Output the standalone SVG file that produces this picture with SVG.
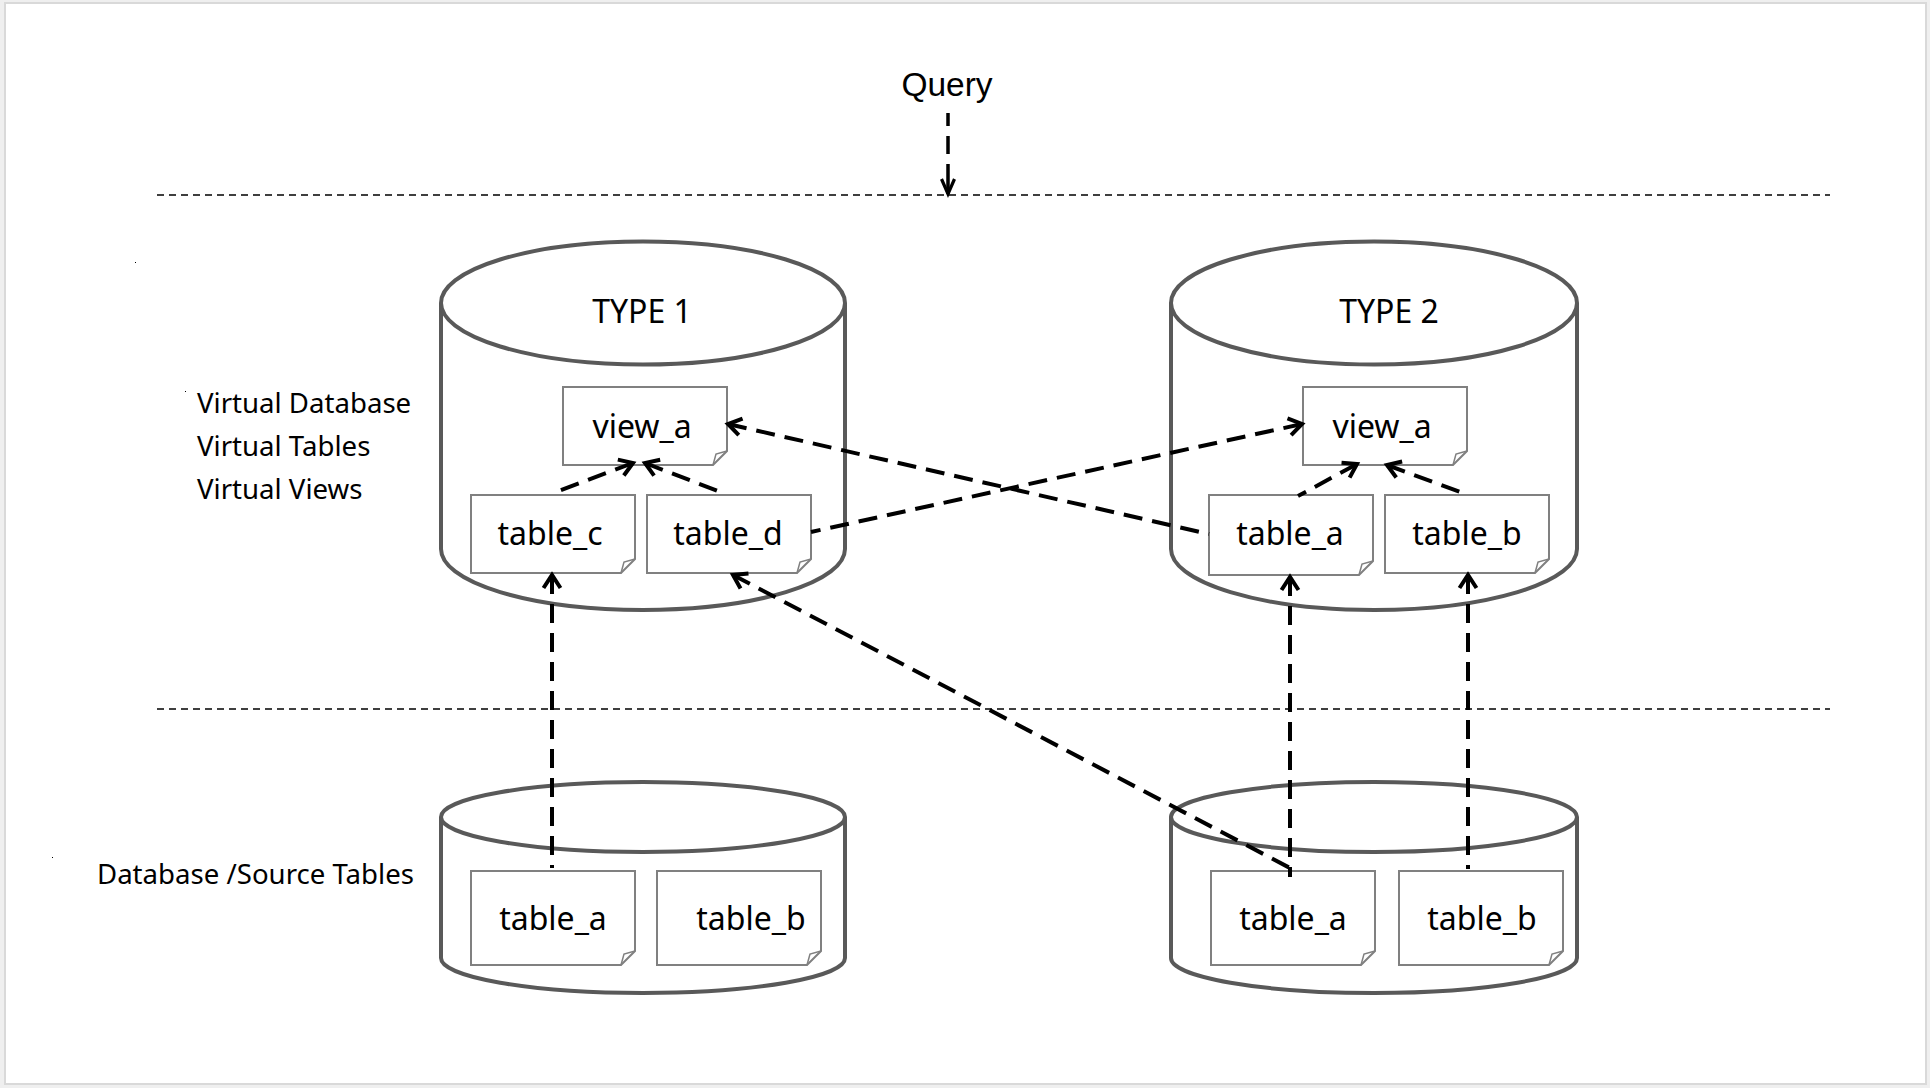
<svg xmlns="http://www.w3.org/2000/svg" width="1930" height="1088" viewBox="0 0 1930 1088">
<style>
.cyl{fill:#fff;stroke:#595959;stroke-width:4}
.note{fill:#fff;stroke:#808080;stroke-width:2}
.fold{fill:none;stroke:#808080;stroke-width:1.5}
.t{font-family:"Noto Sans","Open Sans","Liberation Sans",sans-serif;font-size:32px;fill:#000;text-anchor:middle}
.lbl{font-family:"Noto Sans","Open Sans","Liberation Sans",sans-serif;font-size:27.6px;fill:#000}
.sep{stroke:#000;stroke-width:1.6;stroke-dasharray:7 5;fill:none}
.con{stroke:#000;stroke-width:4;stroke-dasharray:19 10;fill:none;marker-start:url(#arr)}
</style>
<defs>
<marker id="arr" markerUnits="userSpaceOnUse" viewBox="-18 -12 22 24" refX="0" refY="0" markerWidth="22" markerHeight="24" orient="auto-start-reverse">
<path d="M-13,-8.5 L0,0 L-13,8.5" fill="none" stroke="#000" stroke-width="4" stroke-linejoin="miter"/>
</marker>
<marker id="arrq" markerUnits="userSpaceOnUse" viewBox="-18 -12 22 24" refX="0" refY="0" markerWidth="22" markerHeight="24" orient="auto-start-reverse">
<path d="M-15,-6.5 L0,0 L-15,6.5" fill="none" stroke="#000" stroke-width="3.2" stroke-linejoin="miter"/>
</marker>
</defs>
<rect x="0" y="0" width="1930" height="1088" fill="#efefef"/>
<rect x="5" y="3" width="1921" height="1081" fill="#fff" stroke="#d9d9d9" stroke-width="2"/>

<g id="separators">
<line class="sep" x1="157" y1="195" x2="1830" y2="195"/>
<line class="sep" x1="157" y1="709" x2="1830" y2="709"/>
</g>

<g id="query"><text x="947" y="96" style="font-family:'Liberation Sans',Arial,sans-serif;font-size:33.5px;text-anchor:middle">Query</text></g>

<g id="label-virtual">
<text class="lbl" x="197" y="413">Virtual Database</text>
<text class="lbl" x="197" y="456">Virtual Tables</text>
<text class="lbl" x="197" y="499">Virtual Views</text>
</g>
<g id="label-source"><text class="lbl" x="97" y="884">Database /Source Tables</text></g>
<g id="specks" fill="#000"><rect x="135" y="262" width="1" height="1"/><rect x="185" y="391" width="1" height="1"/><rect x="52" y="857" width="1" height="1"/></g>

<g id="type1">
<path class="cyl" d="M441,303 L441,549 A202,61 0 0 0 845,549 L845,303"/>
<ellipse class="cyl" cx="643" cy="303" rx="202" ry="61.5"/>
<text class="t" x="642" y="323">TYPE 1</text>
</g>
<g id="type2">
<path class="cyl" d="M1171,303 L1171,549 A203,61 0 0 0 1577,549 L1577,303"/>
<ellipse class="cyl" cx="1374" cy="303" rx="203" ry="61.5"/>
<text class="t" x="1389" y="323">TYPE 2</text>
</g>
<g id="source1">
<path class="cyl" d="M441,817 L441,958 A202,35 0 0 0 845,958 L845,817"/>
<ellipse class="cyl" cx="643" cy="817" rx="202" ry="35"/>
</g>
<g id="source2">
<path class="cyl" d="M1171,817 L1171,958 A203,35 0 0 0 1577,958 L1577,817"/>
<ellipse class="cyl" cx="1374" cy="817" rx="203" ry="35"/>
</g>

<g id="t1-view_a">
<path class="note" d="M563,387 H727 V451 L713,465 H563 Z"/><path class="fold" d="M713,465 L716,454 L727,451"/>
<text class="t" x="642" y="438">view_a</text>
</g>
<g id="t1-table_c">
<path class="note" d="M471,495 H635 V559 L621,573 H471 Z"/><path class="fold" d="M621,573 L624,562 L635,559"/>
<text class="t" x="550" y="545">table_c</text>
</g>
<g id="t1-table_d">
<path class="note" d="M647,495 H811 V559 L797,573 H647 Z"/><path class="fold" d="M797,573 L800,562 L811,559"/>
<text class="t" x="728" y="545">table_d</text>
</g>
<g id="t2-view_a">
<path class="note" d="M1303,387 H1467 V451 L1453,465 H1303 Z"/><path class="fold" d="M1453,465 L1456,454 L1467,451"/>
<text class="t" x="1382" y="438">view_a</text>
</g>
<g id="t2-table_a">
<path class="note" d="M1209,495 H1373 V561 L1359,575 H1209 Z"/><path class="fold" d="M1359,575 L1362,564 L1373,561"/>
<text class="t" x="1290" y="545">table_a</text>
</g>
<g id="t2-table_b">
<path class="note" d="M1385,495 H1549 V559 L1535,573 H1385 Z"/><path class="fold" d="M1535,573 L1538,562 L1549,559"/>
<text class="t" x="1467" y="545">table_b</text>
</g>
<g id="s1-table_a">
<path class="note" d="M471,871 H635 V951 L621,965 H471 Z"/><path class="fold" d="M621,965 L624,954 L635,951"/>
<text class="t" x="553" y="930">table_a</text>
</g>
<g id="s1-table_b">
<path class="note" d="M657,871 H821 V951 L807,965 H657 Z"/><path class="fold" d="M807,965 L810,954 L821,951"/>
<text class="t" x="751" y="930">table_b</text>
</g>
<g id="s2-table_a">
<path class="note" d="M1211,871 H1375 V951 L1361,965 H1211 Z"/><path class="fold" d="M1361,965 L1364,954 L1375,951"/>
<text class="t" x="1293" y="930">table_a</text>
</g>
<g id="s2-table_b">
<path class="note" d="M1399,871 H1563 V951 L1549,965 H1399 Z"/><path class="fold" d="M1549,965 L1552,954 L1563,951"/>
<text class="t" x="1482" y="930">table_b</text>
</g>

<g id="connectors">
<path d="M948,194 L948,113" style="stroke:#000;stroke-width:3.5;stroke-dasharray:30 10 18 10;fill:none;marker-start:url(#arrq)"/>
<path class="con" d="M633,463 L556,492"/>
<path class="con" d="M645,463 L723,493"/>
<path class="con" d="M728,424 L1209,534"/>
<path class="con" d="M1302,424 L811,532"/>
<path class="con" d="M1357,464 L1298,496"/>
<path class="con" d="M1387,465 L1463,493"/>
<path class="con" d="M552,575 L552,868"/>
<path class="con" d="M733,575 L1290,868"/>
<path class="con" d="M1290,577 L1290,877"/>
<path class="con" d="M1468,575 L1468,869"/>
</g>
</svg>
